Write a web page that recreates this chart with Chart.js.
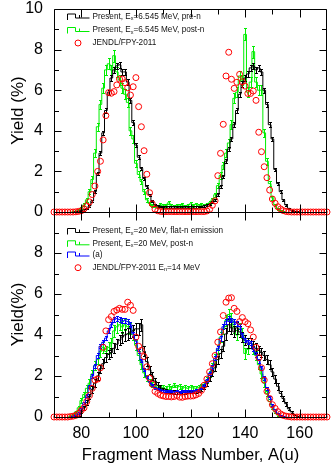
<!DOCTYPE html>
<html><head><meta charset="utf-8">
<script src="https://cdn.jsdelivr.net/npm/chart.js@4.4.1/dist/chart.umd.min.js"></script>
<style>
html,body{margin:0;padding:0;background:#fff;width:332px;height:468px;overflow:hidden;}
#wrap{position:relative;width:332px;height:468px;}
#wrap canvas{position:absolute;left:0;top:0;}
</style></head><body>
<div id="wrap"><canvas id="cTop" width="332" height="468"></canvas><canvas id="cBot" width="332" height="468"></canvas></div>
<script>
// ---------------- DATA ----------------
const massMin = 70, massMax = 170;
const yTicksMin = 0, yTicksMax = 10;
const xTickLabels = [80, 100, 120, 140, 160];

// Top panel: JENDL/FPY-2011 (A = 70..170)
const jendlStart = 70;
const topJendl = [0,0,0,0,0,0,0,0,
  0.01,0.03,0.06,0.16,0.3,0.5,0.86,1.28,2.0,2.5,3.55,4.75,
  5.88,5.85,5.93,6.26,6.55,6.55,6.37,6.12,5.76,6.17,6.62,5.19,
  4.2,3.02,1.86,0.95,0.4,0.14,0.06,0.03,
  0.02,0.02,0.02,0.02,0.02,0.02,0.02,0.02,0.02,0.02,0.02,0.02,0.02,0.02,0.02,0.02,
  0.05,0.13,0.33,0.55,1.79,2.89,4.32,6.7,7.87,6.54,6.09,6.39,
  6.78,6.42,6.2,5.84,5.84,5.96,5.5,3.93,2.97,2.23,1.69,1.08,
  0.64,0.43,0.26,0.15,0.07,0.03,0.01,
  0,0,0,0,0,0,0,0,0,0,0,0,0,0];

// Top panel: Present, Ex=6.545 MeV, pre-n (A = 78..160)
const topPreNStart = 78;
const topPreN = [0.02,0.04,0.06,0.1,0.18,0.3,0.55,1.0,1.9,2.9,3.9,5.0,5.9,6.6,7.0,7.2,7.25,6.9,6.9,6.4,
  5.5,4.4,3.3,2.7,2.15,1.65,1.25,0.85,0.52,0.36,0.3,0.28,0.27,0.26,0.26,0.25,0.25,0.24,0.24,0.25,
  0.24,0.25,0.25,0.26,0.26,0.27,0.28,0.3,0.33,0.38,0.47,0.6,0.85,1.25,1.75,2.5,3.1,3.6,4.3,5.0,
  5.8,6.3,6.6,6.8,7.1,7.2,7.0,7.1,6.9,6.0,5.3,4.3,3.6,2.1,1.4,1.0,0.6,0.35,0.18,0.09,
  0.04,0.02,0];
const topPreNErr = [0.02,0.02,0.03,0.03,0.04,0.05,0.06,
  0.07,0.08,0.1,0.1,0.12,0.12,
  0.13,0.13,0.14,0.14,0.13,0.13,0.13,0.12,0.11,
  0.1,0.1,0.09,0.08,0.07,0.06,0.05,0.04,
  0.04,0.04,0.04,0.04,0.04,0.04,0.04,0.04,0.04,0.04,0.04,0.04,0.04,0.04,0.04,0.04,0.04,0.04,0.04,0.04,
  0.05,0.06,0.07,0.08,0.09,0.1,0.1,0.11,0.12,0.12,
  0.13,0.13,0.13,0.14,0.14,0.14,0.14,0.14,0.13,0.13,0.12,
  0.12,0.11,0.09,0.08,0.07,0.06,0.04,0.03,0.02,0.02,0.01,0];

// Top panel: Present, Ex=6.545 MeV, post-n (A = 77..154)
const topPostNStart = 77;
const topPostN = [0.02,0.05,0.1,0.2,0.35,0.6,1.0,1.6,2.9,4.2,5.3,6.1,7.0,7.3,7.0,7.7,6.9,6.5,6.1,5.8,
  5.4,4.0,3.6,2.4,1.85,1.5,1.0,0.6,0.42,0.32,0.3,0.28,0.35,0.3,0.32,0.45,0.3,0.28,0.33,0.3,
  0.35,0.28,0.33,0.4,0.32,0.38,0.3,0.35,0.32,0.38,0.45,0.6,0.85,1.3,1.8,2.3,2.9,3.4,4.3,5.6,
  5.9,6.7,6.5,8.75,5.9,6.4,7.9,6.4,6.0,6.0,3.9,2.5,1.4,0.7,0.35,0.15,0.06,0.02];
const topPostNErr = [0.01,0.02,0.03,0.05,0.07,0.09,0.12,0.15,
  0.18,0.2,0.22,0.24,0.26,0.27,0.26,0.3,0.26,0.25,0.24,0.24,0.23,0.2,0.2,
  0.17,0.15,0.14,0.12,0.1,0.08,0.07,0.07,0.07,
  0.08,0.08,0.08,0.08,0.08,0.08,0.08,0.08,0.08,0.08,0.08,0.08,0.08,0.08,0.08,0.08,0.08,0.08,0.08,
  0.09,0.11,0.13,0.15,0.17,0.18,0.2,0.22,0.24,
  0.25,0.27,0.26,0.3,0.25,0.26,0.3,0.26,0.25,0.25,
  0.2,0.17,0.13,0.09,0.06,0.04,0.02,0.01];

// Bottom panel: JENDL/FPY-2011 En=14 MeV (A = 70..170)
const botJendl = [0,0,0,0,0,0,
  0.02,0.04,0.08,0.18,0.33,0.45,0.75,1.05,1.4,1.8,1.85,2.4,
  3.4,4.2,4.75,4.9,5.15,5.22,5.3,5.25,5.25,5.6,5.45,5.2,
  3.9,3.45,3.25,2.95,2.45,1.9,1.6,1.25,1.15,1.07,1.03,1.0,
  1.0,0.98,1.0,1.05,0.97,0.96,1.0,1.02,1.02,1.03,1.08,1.15,
  1.3,1.55,1.85,2.2,2.6,3.0,3.65,4.15,4.95,5.6,5.8,5.82,
  5.3,5.15,4.65,4.85,4.65,4.55,4.25,3.9,3.4,2.9,2.4,1.8,
  1.25,0.9,0.6,0.42,0.26,0.15,0.08,0.04,0.02,
  0,0,0,0,0,0,0,0,0,0,0,0,0,0];

// Bottom panel: Present, Ex=20 MeV, flat-n emission (A = 77..160)
const botFlatStart = 77;
const botFlat = [0.03,0.06,0.12,0.25,0.45,0.7,1.0,1.35,1.65,2.0,2.35,2.6,2.9,3.05,3.15,3.35,3.55,3.75,3.9,4.0,
  4.05,4.15,4.2,4.3,4.3,4.5,3.2,2.7,2.3,2.0,1.75,1.55,1.42,1.33,1.28,1.25,1.23,1.22,1.22,1.2,
  1.22,1.22,1.23,1.25,1.25,1.27,1.3,1.35,1.45,1.65,1.9,2.15,2.4,2.8,3.1,3.45,4.05,4.5,4.35,4.15,
  4.35,4.15,3.9,3.75,3.6,3.6,3.45,3.35,3.25,3.15,3.0,2.8,2.55,2.2,1.85,1.5,1.15,0.9,0.65,0.4,
  0.25,0.12,0.05,0];
const botFlatErr = [0.02,0.03,0.05,0.07,0.1,0.12,0.14,0.16,
  0.18,0.2,0.2,0.22,0.22,0.23,0.24,0.25,0.25,0.26,0.27,0.27,0.28,0.28,0.28,0.28,0.28,0.3,
  0.24,0.22,0.2,0.18,0.16,0.14,0.12,0.1,0.09,
  0.08,0.08,0.08,0.08,0.08,0.08,0.08,0.08,0.08,0.08,0.08,0.08,0.08,
  0.1,0.12,0.14,0.16,0.18,0.2,0.22,0.24,0.27,
  0.3,0.28,0.27,0.28,0.27,0.26,0.25,0.25,0.25,0.24,0.24,0.23,0.23,0.22,0.22,0.21,0.2,
  0.18,0.16,0.14,0.12,0.1,0.08,0.06,0.04,0.02,0];

// Bottom panel: Present, Ex=20 MeV, post-n (A = 76..153)
const botPostStart = 76;
const botPost = [0.05,0.1,0.25,0.45,0.8,1.1,1.4,1.65,2.1,2.5,2.8,3.2,3.4,3.2,3.4,3.6,4.2,4.4,4.5,4.4,
  4.5,4.4,4.3,4.0,3.5,3.0,2.55,2.15,1.9,1.7,1.6,1.5,1.45,1.4,1.45,1.38,1.5,1.42,1.55,1.45,
  1.5,1.4,1.45,1.4,1.45,1.42,1.4,1.45,1.5,1.6,1.8,2.1,2.45,2.85,3.3,3.9,4.3,4.7,5.0,4.8,
  4.35,4.0,4.3,4.1,3.1,3.3,3.6,3.3,3.0,2.55,2.1,1.65,1.15,0.75,0.45,0.25,0.1,0.04];
const botPostErr = [0.02,0.04,0.06,0.09,0.12,0.14,0.16,0.18,
  0.2,0.22,0.23,0.25,0.26,0.25,0.26,0.27,0.28,0.28,0.28,0.28,0.28,0.28,0.27,0.26,
  0.24,0.22,0.2,0.18,0.16,0.14,0.13,0.12,0.12,
  0.11,0.11,0.11,0.11,0.11,0.11,0.11,0.11,0.11,0.11,0.11,0.11,0.11,0.11,0.11,0.11,
  0.12,0.14,0.16,0.18,0.2,0.22,0.24,0.26,0.28,0.28,0.28,0.27,0.26,0.27,0.26,
  0.25,0.25,0.25,0.24,0.23,0.21,0.19,0.17,0.14,0.11,0.08,0.06,0.04,0.02];

// Bottom panel: (a) (A = 77..155)
const botAStart = 77;
const botA = [0.05,0.1,0.2,0.4,0.7,1.05,1.5,2.0,2.5,3.0,3.45,3.65,3.85,4.2,4.5,4.75,4.8,4.75,4.7,4.7,
  4.65,4.5,4.05,3.7,3.2,2.75,2.3,1.95,1.7,1.55,1.42,1.35,1.3,1.28,1.26,1.25,1.25,1.24,1.25,1.24,
  1.25,1.25,1.26,1.27,1.28,1.3,1.33,1.4,1.56,1.8,2.13,2.45,2.86,3.35,3.84,4.4,4.65,4.8,4.73,4.65,
  4.57,4.4,4.0,3.75,3.67,3.6,3.3,3.05,2.75,2.4,1.9,1.4,0.95,0.6,0.35,0.18,0.08,0.03,0];
const botAErr = [0.01,0.02,0.03,0.04,0.05,0.06,0.07,0.08,
  0.09,0.1,0.1,0.11,0.11,0.12,0.12,0.12,0.12,0.12,0.12,0.12,0.12,0.12,0.11,0.11,
  0.1,0.09,0.08,0.07,0.06,0.06,0.05,0.05,0.05,
  0.05,0.05,0.05,0.05,0.05,0.05,0.05,0.05,0.05,0.05,0.05,0.05,0.05,0.05,0.05,
  0.06,0.07,0.08,0.09,0.1,0.1,0.11,0.12,0.12,0.12,0.12,0.12,0.12,0.12,0.11,
  0.11,0.11,0.11,0.1,0.1,0.1,0.09,0.08,0.07,0.06,0.05,0.04,0.03,0.02,0.01,0];

// ---------------- STYLE / HELPERS ----------------
const FONT = "'Liberation Sans', Arial, Helvetica, sans-serif";
const C_BLACK = '#000000', C_GREEN = '#00ee00', C_BLUE = '#0000ff', C_RED = '#ff0000';

function histPoints(start, vals) {
  const pts = [{x: start - 0.5, y: 0}];
  vals.forEach((v, i) => pts.push({x: start + i - 0.5, y: v}));
  pts.push({x: start + vals.length - 0.5, y: 0});
  return pts;
}
function circlePoints(start, vals) {
  return vals.map((v, i) => ({x: start + i, y: v}));
}
function histDataset(label, color, start, vals, errs) {
  return {label, data: histPoints(start, vals), stepped: true, borderColor: color, borderWidth: 1,
    pointRadius: 0, fill: false, errStart: start, errVals: vals, errs};
}
function circleDataset(label, start, vals) {
  return {label, data: circlePoints(start, vals), showLine: false, pointRadius: 3, pointBorderWidth: 1,
    pointBorderColor: C_RED, pointBackgroundColor: 'rgba(0,0,0,0)', borderColor: C_RED, clip: false};
}
function noPad(s) { s.paddingTop = 0; s.paddingBottom = 0; s.paddingLeft = 0; s.paddingRight = 0; }

const errorBarPlugin = {
  id: 'errorBars',
  afterDatasetDraw(chart, args) {
    const ds = chart.data.datasets[args.index];
    if (!ds.errs) return;
    const {ctx, chartArea: a, scales: {x, y}} = chart;
    ctx.save();
    ctx.beginPath(); ctx.rect(a.left, a.top, a.right - a.left, a.bottom - a.top); ctx.clip();
    ctx.strokeStyle = ds.borderColor; ctx.lineWidth = 1;
    ctx.beginPath();
    ds.errVals.forEach((v, i) => {
      const e = ds.errs[i];
      if (!e) return;
      const px = Math.round(x.getPixelForValue(ds.errStart + i)) + 0.5;
      const y1 = Math.round(y.getPixelForValue(v - e)) + 0.5;
      const y2 = Math.round(y.getPixelForValue(v + e)) + 0.5;
      ctx.moveTo(px, y1); ctx.lineTo(px, y2);
      ctx.moveTo(px - 1.5, y1); ctx.lineTo(px + 1.5, y1);
      ctx.moveTo(px - 1.5, y2); ctx.lineTo(px + 1.5, y2);
    });
    ctx.stroke();
    ctx.restore();
  }
};

const framePlugin = {
  id: 'panelFrame',
  afterDraw(chart) {
    const {ctx, chartArea: a, scales: {x, y}} = chart;
    const L = Math.round(a.left) + 0.5, R = Math.round(a.right) - 0.5;
    const T = Math.round(a.top) + 0.5, B = Math.round(a.bottom) + 0.5;
    ctx.save();
    ctx.strokeStyle = '#000'; ctx.lineWidth = 1;
    ctx.beginPath();
    ctx.moveTo(L, T); ctx.lineTo(R, T); ctx.lineTo(R, B); ctx.lineTo(L, B); ctx.closePath();
    for (let v = y.min; v <= y.max; v += 1) {
      const py = Math.round(y.getPixelForValue(v)) + 0.5;
      const len = (v % 2 === 0) ? 7 : 4.5;
      ctx.moveTo(L, py); ctx.lineTo(L + len, py);
      ctx.moveTo(R, py); ctx.lineTo(R - len, py);
    }
    for (let v = x.min + 10; v < x.max; v += 10) {
      const px = Math.round(x.getPixelForValue(v)) + 0.5;
      const len = (v % 20 === 0) ? 8 : 5;
      ctx.moveTo(px, B); ctx.lineTo(px, B - len);
      ctx.moveTo(px, T); ctx.lineTo(px, T + len);
    }
    ctx.stroke();
    ctx.restore();
  }
};

const legendPlugin = {
  id: 'panelLegend',
  afterDraw(chart, args, opts) {
    const {ctx, chartArea: a} = chart;
    ctx.save();
    ctx.lineWidth = 1;
    opts.items.forEach(it => {
      const yc = a.top + it.dy;
      const x0 = a.left + 13.5;
      ctx.strokeStyle = it.color;
      ctx.beginPath();
      if (it.kind === 'step') {
        ctx.moveTo(x0, yc + 3.5); ctx.lineTo(x0, yc - 2.5); ctx.lineTo(x0 + 8, yc - 2.5);
        ctx.lineTo(x0 + 8, yc + 1.5); ctx.lineTo(x0 + 22, yc + 1.5);
        ctx.moveTo(x0 + 12, yc - 1.5); ctx.lineTo(x0 + 12, yc + 1.5);
      } else {
        ctx.arc(a.left + 24, yc, 3, 0, Math.PI * 2);
      }
      ctx.stroke();
      let tx = a.left + 38.5;
      ctx.fillStyle = '#111';
      ctx.textBaseline = 'middle';
      ctx.textAlign = 'left';
      it.parts.forEach(p => {
        ctx.font = (p.sub ? '5.5px ' : '8.2px ') + FONT;
        ctx.fillText(p.t, tx, p.sub ? yc + 2 : yc);
        tx += ctx.measureText(p.t).width;
      });
    });
    ctx.restore();
  }
};

function yAxis(title, pad, hideTop) {
  return {
    type: 'linear', min: yTicksMin, max: yTicksMax,
    afterFit(s) { s.width = 54; noPad(s); },
    grid: {display: false, drawTicks: false}, border: {display: false},
    ticks: {stepSize: 1, autoSkip: false, padding: 11, color: '#000', font: {family: FONT, size: 16},
      callback: v => (v % 2 === 0 && !(hideTop && v === yTicksMax)) ? String(v) : ''},
    title: {display: true, text: title, color: '#000', font: {family: FONT, size: 17}, padding: {top: pad, bottom: 0}}
  };
}

const commonOpts = {responsive: false, animation: false, events: [], maintainAspectRatio: false};

// ---------------- TOP PANEL ----------------
new Chart(document.getElementById('cTop'), {
  type: 'line',
  data: {datasets: [
    circleDataset('JENDL/FPY-2011', jendlStart, topJendl),
    histDataset('Present, Ex=6.545 MeV, pre-n', C_BLACK, topPreNStart, topPreN, topPreNErr),
    histDataset('Present, Ex=6.545 MeV, post-n', C_GREEN, topPostNStart, topPostN, topPostNErr)
  ]},
  options: Object.assign({}, commonOpts, {
    layout: {padding: {left: 0, right: 5, top: 9, bottom: 256}},
    scales: {
      x: {type: 'linear', display: false, min: massMin, max: massMax, afterFit: noPad},
      y: yAxis('Yield (%)', 8, false)
    },
    plugins: {
      legend: {display: false}, tooltip: {enabled: false},
      panelLegend: {items: [
        {kind: 'step', color: C_BLACK, dy: 7.5, parts: [{t: 'Present, E'}, {t: 'x', sub: true}, {t: '=6.545 MeV, pre-n'}]},
        {kind: 'step', color: C_GREEN, dy: 21, parts: [{t: 'Present, E'}, {t: 'x', sub: true}, {t: '=6.545 MeV, post-n'}]},
        {kind: 'circle', color: C_RED, dy: 34, parts: [{t: 'JENDL/FPY-2011'}]}
      ]}
    }
  }),
  plugins: [errorBarPlugin, framePlugin, legendPlugin]
});

// ---------------- BOTTOM PANEL ----------------
new Chart(document.getElementById('cBot'), {
  type: 'line',
  data: {datasets: [
    circleDataset('JENDL/FPY-2011 En=14 MeV', jendlStart, botJendl),
    histDataset('(a)', C_BLUE, botAStart, botA, botAErr),
    histDataset('Present, Ex=20 MeV, flat-n emission', C_BLACK, botFlatStart, botFlat, botFlatErr),
    histDataset('Present, Ex=20 MeV, post-n', C_GREEN, botPostStart, botPost, botPostErr)
  ]},
  options: Object.assign({}, commonOpts, {
    layout: {padding: {left: 0, right: 5, top: 212, bottom: 0}},
    scales: {
      x: {type: 'linear', min: massMin, max: massMax,
        afterFit(s) { s.height = 51; noPad(s); },
        grid: {display: false, drawTicks: false}, border: {display: false},
        ticks: {stepSize: 10, autoSkip: false, maxRotation: 0, padding: 7, color: '#000', font: {family: FONT, size: 16},
          callback: v => xTickLabels.includes(v) ? String(v) : ''},
        title: {display: true, text: 'Fragment Mass Number, A(u)', color: '#000', font: {family: FONT, size: 16.5}, padding: {top: 0, bottom: 3}}
      },
      y: yAxis('Yield(%)', 8, true)
    },
    plugins: {
      legend: {display: false}, tooltip: {enabled: false},
      panelLegend: {items: [
        {kind: 'step', color: C_BLACK, dy: 19, parts: [{t: 'Present, E'}, {t: 'x', sub: true}, {t: '=20 MeV, flat-n emission'}]},
        {kind: 'step', color: C_GREEN, dy: 31.3, parts: [{t: 'Present, E'}, {t: 'x', sub: true}, {t: '=20 MeV, post-n'}]},
        {kind: 'step', color: C_BLUE, dy: 42.5, parts: [{t: '(a)'}]},
        {kind: 'circle', color: C_RED, dy: 55.7, parts: [{t: 'JENDL/FPY-2011 E'}, {t: 'n', sub: true}, {t: '=14 MeV'}]}
      ]}
    }
  }),
  plugins: [errorBarPlugin, framePlugin, legendPlugin]
});
</script>
</body></html>
